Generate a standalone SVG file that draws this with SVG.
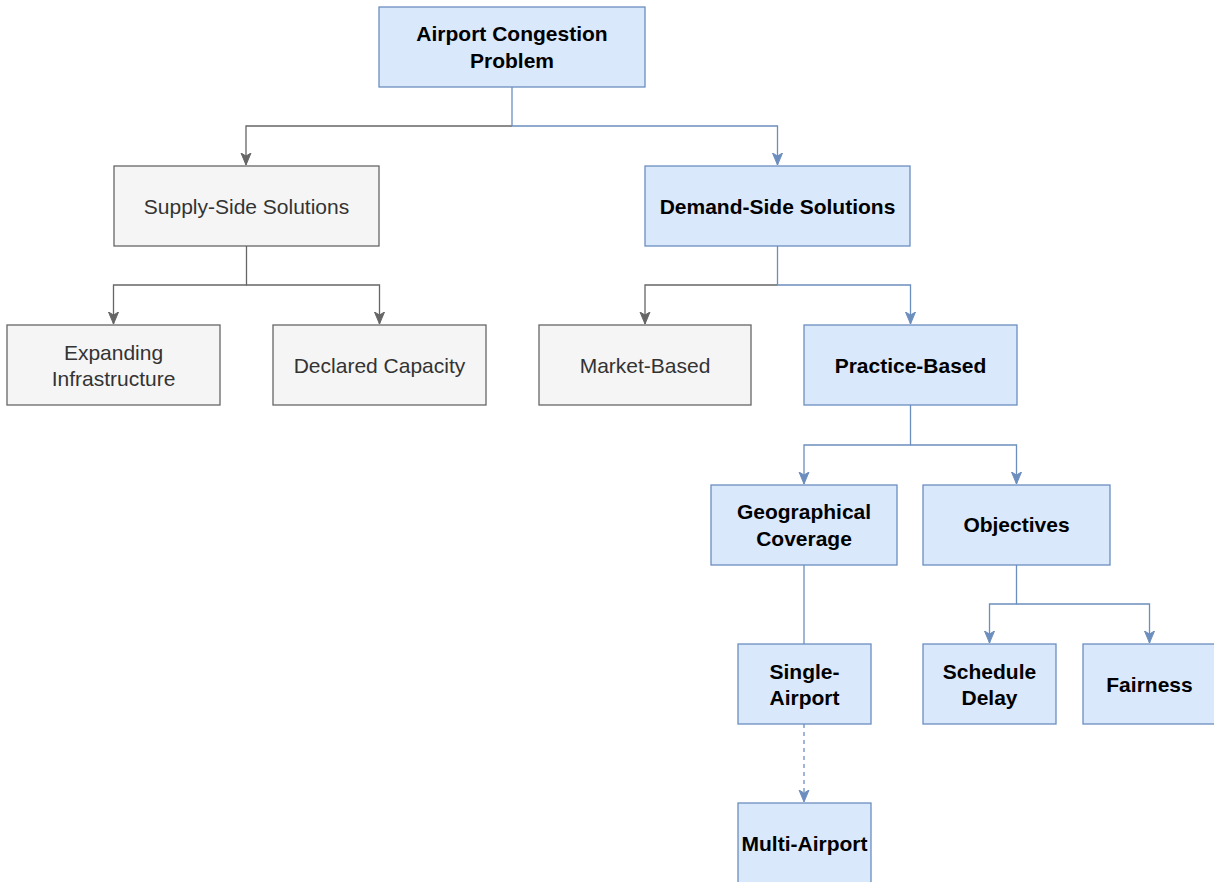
<svg xmlns="http://www.w3.org/2000/svg" width="1214" height="882" viewBox="0 0 1214 882">
<style>
.b rect{fill:#dae8fc;stroke:#6c8ebf;stroke-width:1.3}
.g rect{fill:#f5f5f5;stroke:#666666;stroke-width:1.3}
text{font-family:"Liberation Sans",Arial,sans-serif;font-size:21px;text-anchor:middle;dominant-baseline:central}
.b text{font-weight:bold;fill:#000}
.g text{fill:#333333}
.cb{fill:none;stroke:#6c8ebf;stroke-width:1.3}
.cg{fill:none;stroke:#666666;stroke-width:1.3}
</style>
<defs>
<marker id="ab" markerWidth="14" markerHeight="14" viewBox="0 0 14 14" refX="12" refY="7" orient="auto" markerUnits="userSpaceOnUse">
<path d="M0,2 L12,7 L0,12 L3,7 Z" fill="#6c8ebf" stroke="#6c8ebf" stroke-width="1"/>
</marker>
<marker id="ag" markerWidth="14" markerHeight="14" viewBox="0 0 14 14" refX="12" refY="7" orient="auto" markerUnits="userSpaceOnUse">
<path d="M0,2 L12,7 L0,12 L3,7 Z" fill="#666666" stroke="#666666" stroke-width="1"/>
</marker>
</defs>
<g id="connectors">
<path class="cg" d="M512,126 H246 V165" marker-end="url(#ag)"/>
<path class="cb" d="M512,87 V126 H777.5 V165" marker-end="url(#ab)"/>
<path class="cg" d="M246.5,246 V285 H113.5 V324" marker-end="url(#ag)"/>
<path class="cg" d="M246.5,285 H379.5 V324" marker-end="url(#ag)"/>
<path class="cg" d="M777.5,285 H645 V324" marker-end="url(#ag)"/>
<path class="cb" d="M777.5,246 V285 H910.5 V324" marker-end="url(#ab)"/>
<path class="cb" d="M910.5,405 V445 H804 V484" marker-end="url(#ab)"/>
<path class="cb" d="M910.5,445 H1016.5 V484" marker-end="url(#ab)"/>
<path class="cb" d="M804,565 V644"/>
<path class="cb" d="M1016.5,565 V604 H989.5 V643" marker-end="url(#ab)"/>
<path class="cb" d="M1016.5,604 H1149.5 V643" marker-end="url(#ab)"/>
<path class="cb" d="M804,724 V802" stroke-dasharray="4,4" marker-end="url(#ab)"/>
</g>
<g id="n-root" class="b"><rect x="379" y="7" width="266" height="80"/><text x="512" y="33">Airport Congestion</text><text x="512" y="60">Problem</text></g>
<g id="n-supply" class="g"><rect x="114" y="166" width="265" height="80"/><text x="246.5" y="206">Supply-Side Solutions</text></g>
<g id="n-demand" class="b"><rect x="645" y="166" width="265" height="80"/><text x="777.5" y="206">Demand-Side Solutions</text></g>
<g id="n-expanding" class="g"><rect x="7" y="325" width="213" height="80"/><text x="113.5" y="352">Expanding</text><text x="113.5" y="378">Infrastructure</text></g>
<g id="n-declared" class="g"><rect x="273" y="325" width="213" height="80"/><text x="379.5" y="365">Declared Capacity</text></g>
<g id="n-market" class="g"><rect x="539" y="325" width="212" height="80"/><text x="645" y="365">Market-Based</text></g>
<g id="n-practice" class="b"><rect x="804" y="325" width="213" height="80"/><text x="910.5" y="365">Practice-Based</text></g>
<g id="n-geo" class="b"><rect x="711" y="485" width="186" height="80"/><text x="804" y="511">Geographical</text><text x="804" y="538">Coverage</text></g>
<g id="n-objectives" class="b"><rect x="923" y="485" width="187" height="80"/><text x="1016.5" y="524">Objectives</text></g>
<g id="n-single" class="b"><rect x="738" y="644" width="133" height="80"/><text x="804.5" y="671">Single-</text><text x="804.5" y="697">Airport</text></g>
<g id="n-schedule" class="b"><rect x="923" y="644" width="133" height="80"/><text x="989.5" y="671">Schedule</text><text x="989.5" y="697">Delay</text></g>
<g id="n-fairness" class="b"><rect x="1083" y="644" width="133" height="80"/><text x="1149.5" y="684">Fairness</text></g>
<g id="n-multi" class="b"><rect x="738" y="803" width="133" height="80"/><text x="804.5" y="843">Multi-Airport</text></g>
</svg>
